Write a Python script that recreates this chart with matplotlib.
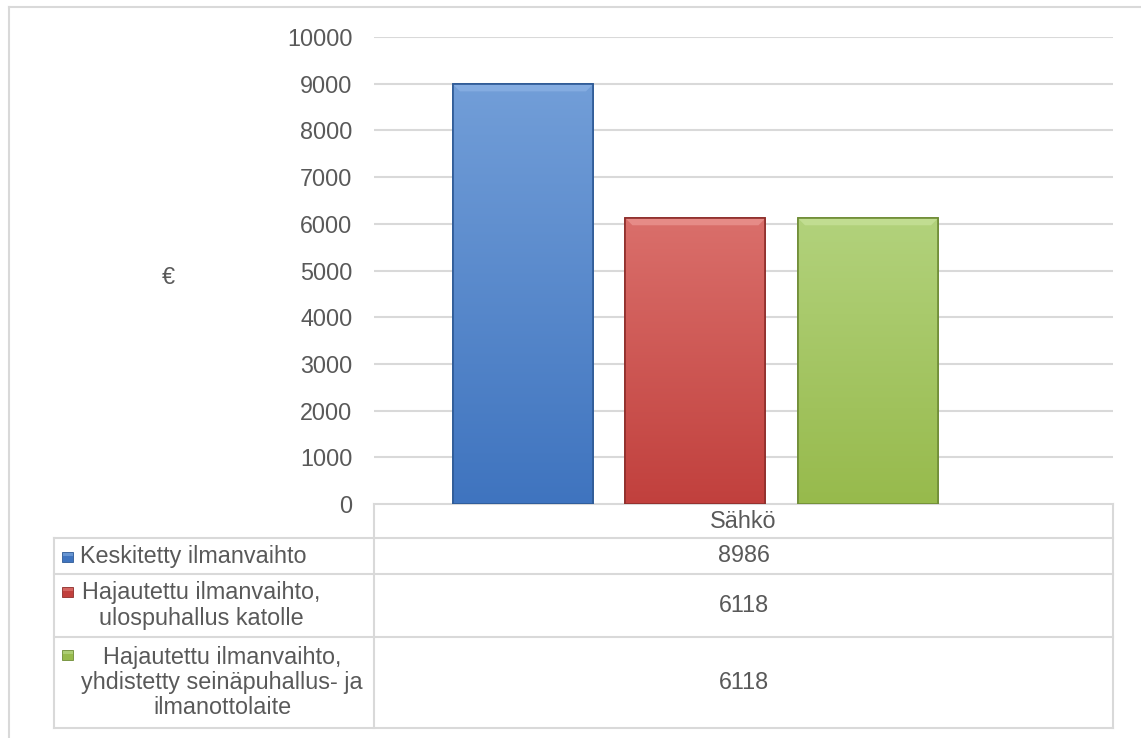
import numpy as np
import matplotlib
matplotlib.use("Agg")
import matplotlib.pyplot as plt
from matplotlib.patches import Rectangle, Polygon
from matplotlib.colors import LinearSegmentedColormap

# ---------------- data ----------------
category = "Sähkö"
series_names = [
    "Keskitetty ilmanvaihto",
    "Hajautettu ilmanvaihto,\nulospuhallus katolle",
    "Hajautettu ilmanvaihto,\nyhdistetty seinäpuhallus- ja\nilmanottolaite",
]
values = [8986, 6118, 6118]
y_ticks = [0, 1000, 2000, 3000, 4000, 5000, 6000, 7000, 8000, 9000, 10000]
y_label = "€"

# ---------------- style ----------------
W, H = 1141, 738
DPI = 100
TXT = "#595959"
GRID = "#D9D9D9"
FS = 16.8
plt.rcParams['font.family'] = ['Liberation Sans', 'DejaVu Sans']

top_cols = ["#729ED8", "#DA6F6B", "#B2D27C"]
bot_cols = ["#3F74BF", "#C1403D", "#97BA4C"]
edge_cols = ["#2E5A96", "#8E2E2B", "#6F8C36"]
bevel_cols = ["#8DB3E6", "#EC9894", "#C8E39B"]

fig = plt.figure(figsize=(W / DPI, H / DPI), dpi=DPI)
fig.patch.set_facecolor("white")

def fx(px):
    return px / W

def fy(py):
    return 1 - py / H

# main plot axes
L, R, T, B = 374, 1113, 37, 504
ax = fig.add_axes([fx(L), fy(B), fx(R) - fx(L), fy(T) - fy(B)])
ax.set_xlim(-0.5, 0.5)
ax.set_ylim(0, 10000)
ax.set_yticks(y_ticks)
ax.set_yticklabels([str(t) for t in y_ticks])
ax.tick_params(axis="y", length=0, pad=15.5, labelsize=FS, labelcolor=TXT)
ax.set_xticks([])
for s in ax.spines.values():
    s.set_visible(False)
ax.yaxis.grid(True, color=GRID, linewidth=1.5)
ax.set_axisbelow(True)

bw = 0.1894
step = 0.2335
center = -0.065
positions = [center + (i - 1) * step for i in range(len(values))]
bars = ax.bar(positions, values, width=bw, zorder=3)
# bevel size in data units (~7 px)
bev_y = 7 / (B - T) * 10000
bev_x = 7 / (R - L)
for i, b in enumerate(bars):
    b.set_facecolor(bot_cols[i])
    b.set_edgecolor(edge_cols[i])
    b.set_linewidth(1.2)
    x0, w, h = b.get_x(), b.get_width(), b.get_height()
    cmap = LinearSegmentedColormap.from_list("g", [bot_cols[i], top_cols[i]])
    grad = np.linspace(0, 1, 256).reshape(-1, 1)
    im = ax.imshow(grad, cmap=cmap, origin="lower", aspect="auto",
                   extent=(x0, x0 + w, 0, h), zorder=3.5)
    im.set_clip_path(b)
    # top bevel
    ax.add_patch(Polygon([(x0, h), (x0 + w, h), (x0 + w - bev_x, h - bev_y),
                          (x0 + bev_x, h - bev_y)], closed=True,
                         facecolor=bevel_cols[i], edgecolor="none", alpha=0.7,
                         zorder=3.8))
    ax.add_patch(Rectangle((x0, 0), w, h, fill=False,
                           edgecolor=edge_cols[i], linewidth=1.2, zorder=4))
ax.set_xlim(-0.5, 0.5)
ax.set_ylim(0, 10000)

fig.text(fx(168), fy(278), y_label, fontsize=FS, color=TXT, ha="center", va="center")

# overlay axes in pixel coords for frame and data table
ov = fig.add_axes([0, 0, 1, 1], zorder=-1)
ov.set_xlim(0, W)
ov.set_ylim(H, 0)
ov.axis("off")
lw = 1.5
ov.plot([9, 9], [7, H + 5], color=GRID, lw=lw)
ov.plot([9, W + 5], [7, 7], color=GRID, lw=lw)

rows = [504, 538, 574, 637, 728]
ov.plot([L, R], [rows[0], rows[0]], color=GRID, lw=lw)
for yy in rows[1:]:
    ov.plot([54, R], [yy, yy], color=GRID, lw=lw)
ov.plot([L, L], [rows[0], rows[-1]], color=GRID, lw=lw)
ov.plot([R, R], [rows[0], rows[-1]], color=GRID, lw=lw)
ov.plot([54, 54], [rows[1], rows[-1]], color=GRID, lw=lw)

fig.text(fx((L + R) / 2), fy(521), category, fontsize=FS, color=TXT,
         ha="center", va="center")

ov2 = fig.add_axes([0, 0, 1, 1], zorder=5)
ov2.set_xlim(0, W)
ov2.set_ylim(H, 0)
ov2.axis("off")

value_centers = [556, 605.5, 682.5]
for v, yc in zip(values, value_centers):
    fig.text(fx((L + R) / 2), fy(yc), str(v), fontsize=FS, color=TXT,
             ha="center", va="center")

label_specs = [
    (80, 556, "left", 557),
    (201, 605.5, "center", 592),
    (222, 682.5, "center", 655),
]
for i, (name, (xx, yc, ha, my)) in enumerate(zip(series_names, label_specs)):
    fig.text(fx(xx), fy(yc), name, fontsize=FS, color=TXT, ha=ha, va="center",
             multialignment="center", linespacing=1.13)
    ov2.add_patch(Rectangle((62, my - 5), 11, 10, facecolor=bot_cols[i],
                            edgecolor=edge_cols[i], lw=0.6))
    ov2.add_patch(Rectangle((62.5, my - 4.5), 10, 3, facecolor=top_cols[i],
                            edgecolor="none", alpha=0.8))

fig.savefig("out.png", dpi=DPI)
